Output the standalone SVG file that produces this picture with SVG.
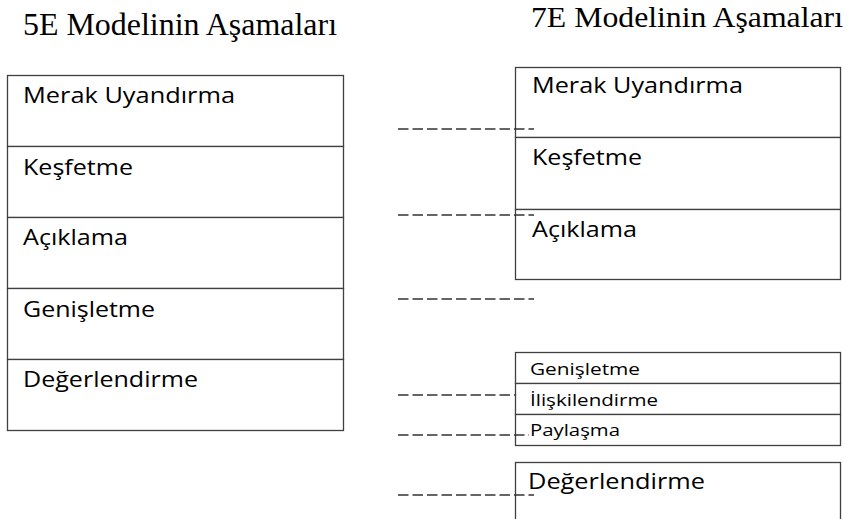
<svg xmlns="http://www.w3.org/2000/svg" width="847" height="519" viewBox="0 0 847 519">
<style>
.cell{fill:#fff;stroke:#404040;stroke-width:1.3}
.title{font-family:"Liberation Serif","Times New Roman",serif;font-size:32px;fill:#000}
.lbl{font-family:"Open Sans","Liberation Sans",sans-serif;font-size:22.5px;fill:#000}
.sm{font-family:"Open Sans","Liberation Sans",sans-serif;font-size:17px;fill:#000}
.dash{stroke:#333;stroke-width:1.5;stroke-dasharray:10.5 4;fill:none}
</style>
<rect width="847" height="519" fill="#fff"/>
<g id="title5e"><text class="title" x="23" y="35" textLength="314" lengthAdjust="spacingAndGlyphs">5E Modelinin Aşamaları</text></g>
<g id="title7e"><text class="title" x="531" y="27" style="font-size:30px" textLength="312" lengthAdjust="spacingAndGlyphs">7E Modelinin Aşamaları</text></g>

<g id="l-merak"><rect class="cell" x="7.5" y="75.5" width="336" height="71"/><text class="lbl" x="23" y="103" textLength="212" lengthAdjust="spacingAndGlyphs">Merak Uyandırma</text></g>
<g id="l-kesfetme"><rect class="cell" x="7.5" y="146.5" width="336" height="71"/><text class="lbl" x="23" y="175" textLength="110" lengthAdjust="spacingAndGlyphs">Keşfetme</text></g>
<g id="l-aciklama"><rect class="cell" x="7.5" y="217.5" width="336" height="71"/><text class="lbl" x="23" y="245" textLength="105" lengthAdjust="spacingAndGlyphs">Açıklama</text></g>
<g id="l-genisletme"><rect class="cell" x="7.5" y="288.5" width="336" height="71"/><text class="lbl" x="23" y="317" textLength="132" lengthAdjust="spacingAndGlyphs">Genişletme</text></g>
<g id="l-degerlendirme"><rect class="cell" x="7.5" y="359.5" width="336" height="71"/><text class="lbl" x="23" y="387" textLength="175" lengthAdjust="spacingAndGlyphs">Değerlendirme</text></g>

<g id="r-merak"><rect class="cell" x="515.5" y="67.5" width="325" height="70"/><text class="lbl" x="532" y="93" textLength="211" lengthAdjust="spacingAndGlyphs">Merak Uyandırma</text></g>
<g id="r-kesfetme"><rect class="cell" x="515.5" y="137.5" width="325" height="72"/><text class="lbl" x="532" y="165" textLength="110" lengthAdjust="spacingAndGlyphs">Keşfetme</text></g>
<g id="r-aciklama"><rect class="cell" x="515.5" y="209.5" width="325" height="70"/><text class="lbl" x="532" y="237" textLength="105" lengthAdjust="spacingAndGlyphs">Açıklama</text></g>

<g id="r-genisletme"><rect class="cell" x="515.5" y="352.5" width="325" height="31"/><text class="sm" x="530" y="375" textLength="110" lengthAdjust="spacingAndGlyphs">Genişletme</text></g>
<g id="r-iliskilendirme"><rect class="cell" x="515.5" y="383.5" width="325" height="31"/><text class="sm" x="530" y="406" textLength="128" lengthAdjust="spacingAndGlyphs">İlişkilendirme</text></g>
<g id="r-paylasma"><rect class="cell" x="515.5" y="414.5" width="325" height="31"/><text class="sm" x="530" y="436" textLength="90" lengthAdjust="spacingAndGlyphs">Paylaşma</text></g>

<g id="r-degerlendirme"><rect class="cell" x="515.5" y="462.5" width="325" height="80"/><text class="lbl" x="528" y="489" textLength="177" lengthAdjust="spacingAndGlyphs">Değerlendirme</text></g>

<g id="connectors">
<line class="dash" x1="398" y1="129" x2="534" y2="129"/>
<line class="dash" x1="398" y1="215" x2="534" y2="215"/>
<line class="dash" x1="398" y1="299" x2="534" y2="299"/>
<line class="dash" x1="398" y1="395" x2="516" y2="395"/>
<line class="dash" x1="398" y1="435" x2="529" y2="435"/>
<line class="dash" x1="398" y1="495" x2="534" y2="495"/>
</g>
</svg>
